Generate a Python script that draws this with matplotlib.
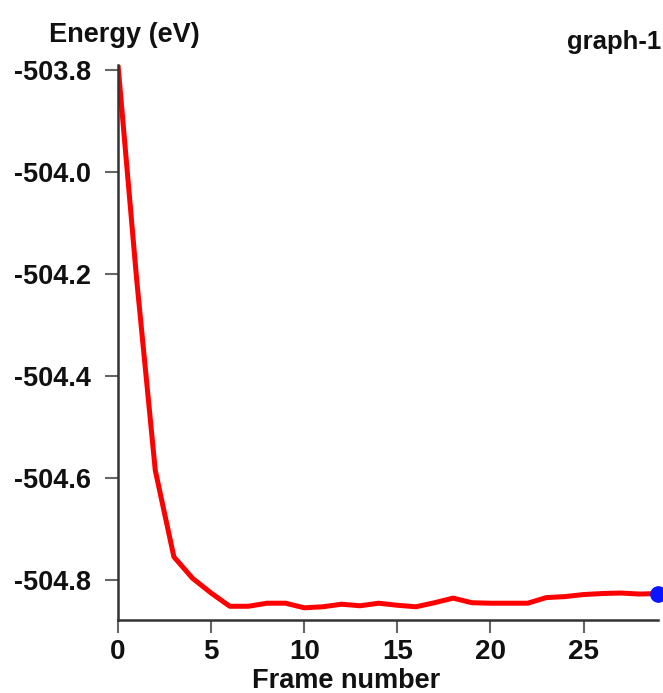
import matplotlib
matplotlib.use("Agg")
import matplotlib.pyplot as plt

frames = list(range(30))
energy = [-503.79, -504.21, -504.585, -504.755, -504.797, -504.826, -504.852, -504.852,
          -504.846, -504.846, -504.855, -504.853, -504.848, -504.851, -504.846, -504.850,
          -504.853, -504.845, -504.836, -504.845, -504.846, -504.846, -504.846, -504.835,
          -504.833, -504.829, -504.827, -504.826, -504.828, -504.827]
xticks = [0, 5, 10, 15, 20, 25]
yticks = [-503.8, -504.0, -504.2, -504.4, -504.6, -504.8]

plt.rcParams['font.family'] = ['Liberation Sans', 'DejaVu Sans']
fig = plt.figure(figsize=(6.63, 6.93), dpi=100)
ax = fig.add_axes([0.178, 0.1053, 0.8145, 0.8007])

ax.plot(frames, energy, color='#ff0000', lw=3.6, solid_joinstyle='round')
ax.plot([frames[-1]], [energy[-1]], 'o', color='#0a14ff', ms=11, clip_on=False, zorder=5)

ax.set_xlim(0, 29)
ax.set_ylim(-504.879, -503.79)
ax.set_xticks(xticks)
ax.set_yticks(yticks)
ax.set_yticklabels([f"{v:.1f}" for v in yticks])
for s in ['top', 'right']:
    ax.spines[s].set_visible(False)
for s in ['left', 'bottom']:
    ax.spines[s].set_color('#333333')
    ax.spines[s].set_linewidth(1.8)
ax.tick_params(axis='both', length=9.5, width=1.5, color='#666666', labelcolor='#111111')
ax.tick_params(axis='x', labelsize=20, pad=4)
ax.tick_params(axis='y', labelsize=19.5, pad=10)
for lab in ax.get_xticklabels() + ax.get_yticklabels():
    lab.set_fontweight('bold')

fig.text(0.188, 0.949, "Energy (eV)", ha='center', va='center', fontsize=19.5, fontweight='bold', color='#111111')
fig.text(0.997, 0.94, "graph-1", ha='right', va='center', fontsize=18.5, fontweight='bold', color='#111111')
fig.text(0.522, 0.017, "Frame number", ha='center', va='center', fontsize=19.5, fontweight='bold', color='#111111')

fig.savefig("out.png", dpi=100)
